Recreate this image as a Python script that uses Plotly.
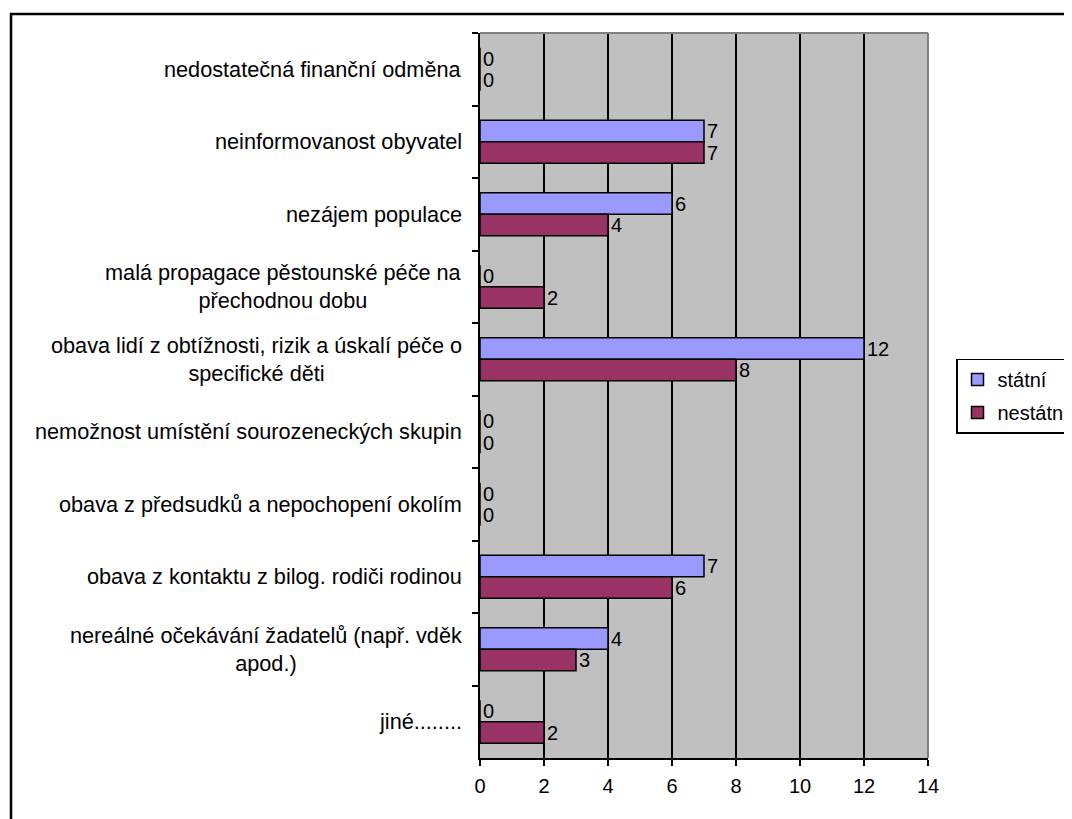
import plotly.graph_objects as go

categories = [
    "nedostatečná finanční odměna",
    "neinformovanost obyvatel",
    "nezájem populace",
    "malá propagace pěstounské péče na<br>přechodnou dobu",
    "obava lidí z obtížnosti, rizik a úskalí péče o<br>specifické děti",
    "nemožnost umístění sourozeneckých skupin",
    "obava z předsudků a nepochopení okolím",
    "obava z kontaktu z bilog. rodiči rodinou",
    "nereálné očekávání žadatelů (např. vděk<br>apod.)",
    "jiné........",
]
statni = [0, 7, 6, 0, 12, 0, 0, 7, 4, 0]
nestatni = [0, 7, 4, 2, 8, 0, 0, 6, 3, 2]
x_ticks = [0, 2, 4, 6, 8, 10, 12, 14]

# page has an 8px body margin; figure coordinates = page coordinates - 8
OFF = 8
W, H = 1072, 819
L, R, T, B = 480 - OFF, 928 - OFF, 33 - OFF, 758 - OFF
FONT = "Liberation Sans, Arial, sans-serif"


def px_x(p):
    return (p - OFF - L) / (R - L)


def px_y(p):
    return (B - (p - OFF)) / (B - T)


fig = go.Figure()
fig.add_trace(go.Bar(
    name="státní", y=categories, x=statni, orientation="h",
    marker=dict(color="#9999FF", line=dict(color="black", width=1.5)),
    text=[str(v) for v in statni], textposition="outside", constraintext="none",
    textfont=dict(size=20, color="black", family=FONT), cliponaxis=False,
    legendgroup="a",
))
fig.add_trace(go.Bar(
    name="nestátní", y=categories, x=nestatni, orientation="h",
    marker=dict(color="#993366", line=dict(color="black", width=1.5)),
    text=[str(v) for v in nestatni], textposition="outside", constraintext="none",
    textfont=dict(size=20, color="black", family=FONT), cliponaxis=False,
    legendgroup="b",
))

annotations = []
for c in categories:
    annotations.append(dict(
        x=0, xref="paper", y=c, yref="y", text=c, showarrow=False,
        xanchor="right", yanchor="middle", align="center", xshift=-16,
        font=dict(size=21.7, color="black", family=FONT),
    ))

shapes = [
    # outer chart border
    dict(type="rect", xref="paper", yref="paper",
         x0=px_x(11), x1=px_x(1100), y0=px_y(850), y1=px_y(14),
         line=dict(color="black", width=2.5), layer="below"),
    # plot area top and right borders (gray)
    dict(type="line", xref="paper", yref="paper",
         x0=0, x1=1, y0=1, y1=1, line=dict(color="#808080", width=2), layer="above"),
    dict(type="line", xref="paper", yref="paper",
         x0=1, x1=1, y0=0, y1=1, line=dict(color="#808080", width=2), layer="above"),
]

fig.update_layout(
    width=W, height=H,
    margin=dict(l=L, r=W - R, t=T, b=H - B, pad=0, autoexpand=False),
    paper_bgcolor="white", plot_bgcolor="#C0C0C0",
    barmode="group", bargap=0.407, bargroupgap=0,
    font=dict(family=FONT, size=20, color="black"),
    showlegend=True,
    legend=dict(
        x=px_x(956), y=px_y(396), xanchor="left", yanchor="middle",
        bgcolor="white", bordercolor="black", borderwidth=1.5,
        font=dict(size=20, family=FONT, color="black"),
        traceorder="grouped", tracegroupgap=4,
    ),
    annotations=annotations,
    shapes=shapes,
    xaxis=dict(
        range=[0, 14], tickvals=x_ticks, ticktext=[str(v) for v in x_ticks],
        showgrid=True, gridcolor="black", gridwidth=1.5,
        zeroline=False, showline=True, linecolor="black", linewidth=2,
        ticks="outside", ticklen=6, tickcolor="black", tickwidth=1.5,
        tickfont=dict(size=20, family=FONT, color="black"),
        ticklabelstandoff=3,
    ),
    yaxis=dict(
        categoryorder="array", categoryarray=categories, autorange="reversed",
        showticklabels=False, showgrid=False, zeroline=False,
        showline=True, linecolor="black", linewidth=2,
        ticks="outside", ticklen=6, tickcolor="black", tickwidth=1.5,
        tickson="boundaries",
    ),
)

fig.write_html("out.html")
